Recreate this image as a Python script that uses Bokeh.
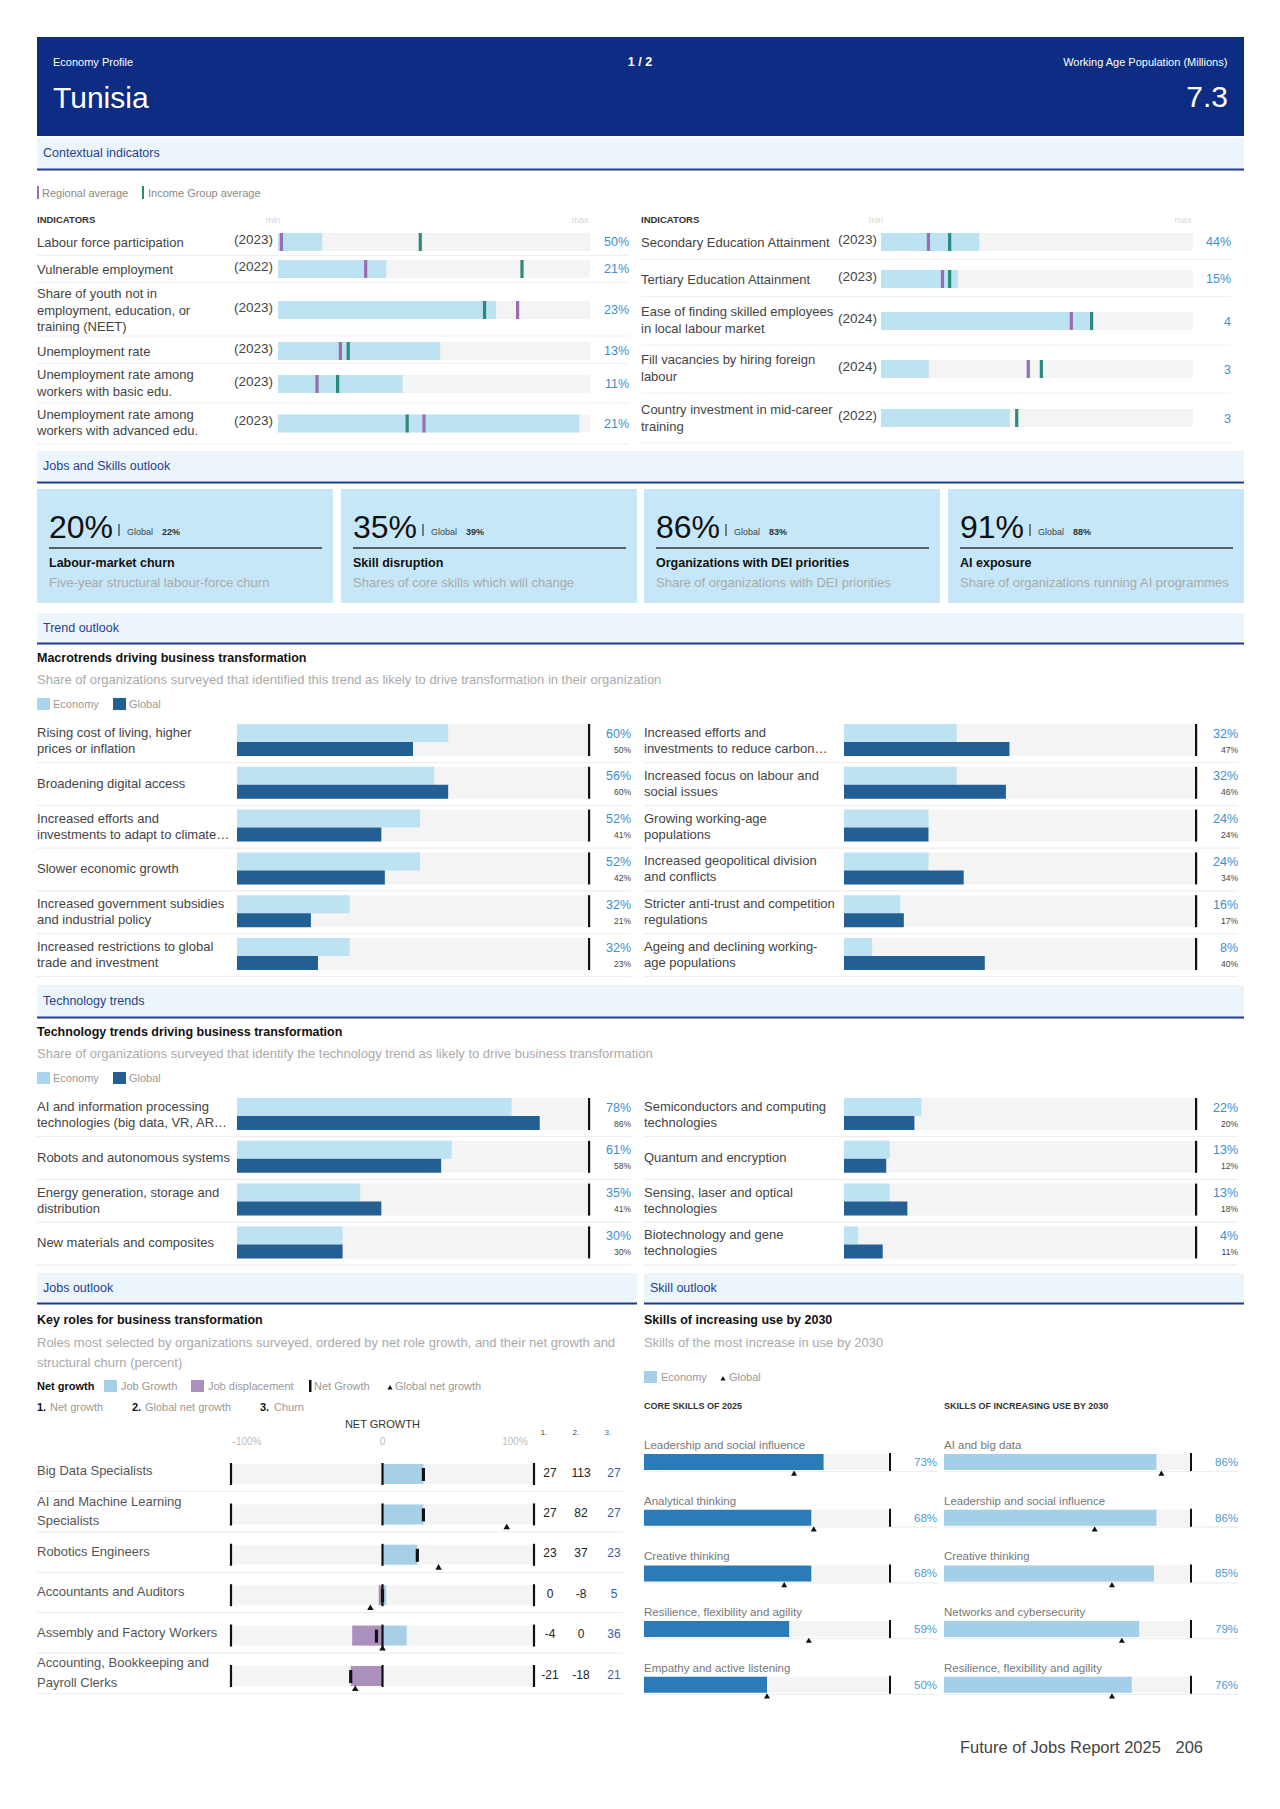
from bokeh.plotting import figure
from bokeh.models import Range1d, ColumnDataSource
from bokeh.embed import file_html
from bokeh.resources import INLINE
from bokeh.core.properties import value

# ============================ DATA ============================
country = "Tunisia"
working_age_population = "7.3"
page_label = "1 / 2"

# Contextual indicators (position of bar / markers between min and max)
ctx_left_labels = ["Labour force participation", "Vulnerable employment",
                   "Share of youth not in\nemployment, education, or\ntraining (NEET)",
                   "Unemployment rate", "Unemployment rate among\nworkers with basic edu.",
                   "Unemployment rate among\nworkers with advanced edu."]
ctx_left_years = ["(2023)", "(2022)", "(2023)", "(2023)", "(2023)", "(2023)"]
ctx_left_values = ["50%", "21%", "23%", "13%", "11%", "21%"]
ctx_left_pos = [0.142, 0.347, 0.699, 0.520, 0.399, 0.966]
ctx_left_regional = [0.011, 0.281, 0.768, 0.200, 0.125, 0.468]
ctx_left_income = [0.456, 0.782, 0.662, 0.225, 0.191, 0.414]

ctx_right_labels = ["Secondary Education Attainment", "Tertiary Education Attainment",
                    "Ease of finding skilled employees\nin local labour market",
                    "Fill vacancies by hiring foreign\nlabour",
                    "Country investment in mid-career\ntraining"]
ctx_right_years = ["(2023)", "(2023)", "(2024)", "(2024)", "(2022)"]
ctx_right_values = ["44%", "15%", "4", "3", "3"]
ctx_right_pos = [0.315, 0.247, 0.677, 0.153, 0.413]
ctx_right_regional = [0.152, 0.197, 0.610, 0.472, None]
ctx_right_income = [0.220, 0.220, 0.675, 0.514, 0.435]

# Jobs and skills outlook KPIs
kpi_values = ["20%", "35%", "86%", "91%"]
kpi_global = ["22%", "39%", "83%", "88%"]
kpi_titles = ["Labour-market churn", "Skill disruption", "Organizations with DEI priorities", "AI exposure"]
kpi_subtitles = ["Five-year structural labour-force churn", "Shares of core skills which will change",
                 "Share of organizations with DEI priorities", "Share of organizations running AI programmes"]

# Macrotrends
macro_left_labels = ["Rising cost of living, higher\nprices or inflation", "Broadening digital access",
                     "Increased efforts and\ninvestments to adapt to climate\u2026", "Slower economic growth",
                     "Increased government subsidies\nand industrial policy",
                     "Increased restrictions to global\ntrade and investment"]
macro_left_economy = [60, 56, 52, 52, 32, 32]
macro_left_global = [50, 60, 41, 42, 21, 23]
macro_right_labels = ["Increased efforts and\ninvestments to reduce carbon\u2026",
                      "Increased focus on labour and\nsocial issues", "Growing working-age\npopulations",
                      "Increased geopolitical division\nand conflicts",
                      "Stricter anti-trust and competition\nregulations",
                      "Ageing and declining working-\nage populations"]
macro_right_economy = [32, 32, 24, 24, 16, 8]
macro_right_global = [47, 46, 24, 34, 17, 40]

# Technology trends
tech_left_labels = ["AI and information processing\ntechnologies (big data, VR, AR\u2026",
                    "Robots and autonomous systems", "Energy generation, storage and\ndistribution",
                    "New materials and composites"]
tech_left_economy = [78, 61, 35, 30]
tech_left_global = [86, 58, 41, 30]
tech_right_labels = ["Semiconductors and computing\ntechnologies", "Quantum and encryption",
                     "Sensing, laser and optical\ntechnologies", "Biotechnology and gene\ntechnologies"]
tech_right_economy = [22, 13, 13, 4]
tech_right_global = [20, 12, 18, 11]

# Key roles
roles = ["Big Data Specialists", "AI and Machine Learning\nSpecialists", "Robotics Engineers",
         "Accountants and Auditors", "Assembly and Factory Workers",
         "Accounting, Bookkeeping and\nPayroll Clerks"]
role_job_growth = [27, 27, 23, 2.5, 16, 0]
role_job_displacement = [0, 0, 0, 2.5, 20, 21]
role_net_growth = [27, 27, 23, 0, -4, -21]
role_global_net_growth = [113, 82, 37, -8, 0, -18]
role_churn = [27, 27, 23, 5, 36, 21]

# Skills
core_skills = ["Leadership and social influence", "Analytical thinking", "Creative thinking",
               "Resilience, flexibility and agility", "Empathy and active listening"]
core_skills_economy = [73, 68, 68, 59, 50]
core_skills_global = [61, 69, 57, 67, 50]
rising_skills = ["AI and big data", "Leadership and social influence", "Creative thinking",
                 "Networks and cybersecurity", "Resilience, flexibility and agility"]
rising_skills_economy = [86, 86, 85, 79, 76]
rising_skills_global = [88, 61, 68, 72, 68]

footer_text = "Future of Jobs Report 2025"
page_number = "206"

# ============================ STYLE ============================
FONT = "Liberation Sans"
NAVY = "#0c2d83"
BAND = "#edf5fc"
BAND_LINE = "#1d3a8a"
BAND_TEXT = "#1f3f8f"
TRACK = "#f4f4f4"
ECON = "#bde2f2"
GLOB = "#245f94"
VALBLUE = "#3b8fd0"
LABEL = "#444444"
SUB = "#aaaaaa"
SEP = "#ececec"
PURPLE = "#9a6cb0"
TEAL = "#2b8a7a"
JOBGROW = "#a6d0e8"
JOBDISP = "#ab8fbd"

W, H = 1264, 1792
OX = 0.5
p = figure(width=W, height=H, x_range=Range1d(OX, OX + W), y_range=Range1d(OX + H, OX),
           output_backend="svg", toolbar_location=None, min_border=0, tools="")
p.axis.visible = False
p.grid.visible = False
p.outline_line_color = None
p.background_fill_color = "white"
p.border_fill_color = "white"

RECTS, SEGS, TEXTS = {}, {}, {}
TRIS = dict(x=[], y=[], size=[])


def rect(x0, x1, y0, y1, color, layer=1):
    d = RECTS.setdefault((layer, color), dict(left=[], right=[], top=[], bottom=[]))
    d["left"].append(min(x0, x1)); d["right"].append(max(x0, x1))
    d["top"].append(min(y0, y1)); d["bottom"].append(max(y0, y1))


def seg(x0, y0, x1, y1, color=SEP, width=1.0, layer=0):
    d = SEGS.setdefault((layer, color, width), dict(x0=[], y0=[], x1=[], y1=[]))
    d["x0"].append(x0); d["y0"].append(y0); d["x1"].append(x1); d["y1"].append(y1)


def text(x, y, s, size=13, color=LABEL, align="left", bold=False, baseline="middle"):
    d = TEXTS.setdefault((size, color, align, bold, baseline), dict(x=[], y=[], text=[]))
    d["x"].append(x); d["y"].append(y); d["text"].append(s)


def mtext(x, yc, s, size, color, spacing, **kw):
    lines = s.split("\n")
    n = len(lines)
    for i, ln in enumerate(lines):
        text(x, yc + (i - (n - 1) / 2) * spacing, ln, size, color, **kw)


def tri(x, y, size=7):
    TRIS["x"].append(x); TRIS["y"].append(y); TRIS["size"].append(size)


def band(x0, x1, y0, y1, label):
    rect(x0, x1, y0, y1, BAND, 0)
    seg(x0, y1 + 1.5, x1, y1 + 1.5, BAND_LINE, 2.2, 0)
    text(x0 + 6, (y0 + y1) / 2, label, 12.5, BAND_TEXT)


# ============================ HEADER ============================
rect(37, 1244, 37, 136, NAVY, 0)
text(53, 62, "Economy Profile", 11, "white")
text(640, 62, page_label, 12.5, "white", "center", bold=True)
text(1228, 62, "Working Age Population (Millions)", 11, "white", "right")
text(53, 97, country, 30, "white")
text(1228, 97, working_age_population, 30, "white", "right")

# ============================ CONTEXTUAL INDICATORS ============================
band(37, 1244, 138, 168, "Contextual indicators")
rect(37, 39, 186, 199, PURPLE, 2)
text(42, 193, "Regional average", 11, "#888888")
rect(142, 144, 186, 199, TEAL, 2)
text(148, 193, "Income Group average", 11, "#888888")


def indicator_panel(labels, years, vals, pos, reg, inc, centers, seps, xl, xy, bx0, bx1, xv, line_offsets):
    text(xl, 219, "INDICATORS", 9.5, "#333333", bold=True)
    text(bx0 - 5, 220, "min", 9, "#d5d5d5", "center")
    text(bx1 - 10, 220, "max", 9, "#d5d5d5", "center")
    for i, c in enumerate(centers):
        mtext(xl, c + line_offsets[i], labels[i], 13, LABEL, 16.5)
        text(xy, c - 3, years[i], 13.5, LABEL, "right")
        rect(bx0, bx1, c - 9, c + 9, TRACK, 0)
        rect(bx0, bx0 + pos[i] * (bx1 - bx0), c - 9, c + 9, ECON, 1)
        if reg[i] is not None:
            xm = bx0 + reg[i] * (bx1 - bx0)
            rect(xm - 1.6, xm + 1.6, c - 9, c + 9, PURPLE, 2)
        if inc[i] is not None:
            xm = bx0 + inc[i] * (bx1 - bx0)
            rect(xm - 1.6, xm + 1.6, c - 9, c + 9, TEAL, 2)
        text(xv, c, vals[i], 12.5, VALBLUE, "right")
    for s in seps:
        seg(xl, s, xv, s, "#f0f0f0", 1.2, 0)


indicator_panel(ctx_left_labels, ctx_left_years, ctx_left_values, ctx_left_pos, ctx_left_regional,
                ctx_left_income, [242, 269, 310, 351, 384, 423.5], [255.5, 282.5, 336, 363.5, 403, 444],
                37, 273, 278, 590, 629, [0, 0, 0, 0, -1, -1])
indicator_panel(ctx_right_labels, ctx_right_years, ctx_right_values, ctx_right_pos, ctx_right_regional,
                ctx_right_income, [242, 279, 321, 369, 418], [259.5, 296.5, 345, 393, 443],
                641, 877, 881, 1193, 1231, [0, 0, -1, -1, 0])

# ============================ JOBS AND SKILLS OUTLOOK ============================
band(37, 1244, 451, 481, "Jobs and Skills outlook")
kpi_x = [37, 341, 644, 948]
for i in range(4):
    x0 = kpi_x[i]
    rect(x0, x0 + 296, 489, 603, "#c6e7f8", 0)
    tx = x0 + 12
    text(tx, 527, kpi_values[i], 32, "#111111")
    seg(tx + 70, 524, tx + 70, 536, "#333333", 1.2, 2)
    text(tx + 78, 532, "Global", 9, "#444444")
    text(tx + 113, 532, kpi_global[i], 9, "#333333", bold=True)
    seg(tx, 548, x0 + 285, 548, "#333333", 1.5, 2)
    text(tx, 563, kpi_titles[i], 12.5, "#111111", bold=True)
    text(tx, 582, kpi_subtitles[i], 13, SUB)

# ============================ TREND OUTLOOK ============================
band(37, 1244, 613, 642, "Trend outlook")


def dual_bar_section(title, subtitle, y_title, left, right, row_top0):
    text(37, y_title, title, 12.5, "#111111", bold=True)
    text(37, y_title + 21, subtitle, 13, SUB)
    ly = y_title + 46
    rect(37, 50, ly - 6, ly + 6, "#a9d6ee", 1)
    text(53, ly, "Economy", 11, "#999999")
    rect(113, 126, ly - 6, ly + 6, GLOB, 1)
    text(129, ly, "Global", 11, "#999999")
    for (labels, econ, glob, xl, tx0, tx1, xv) in (left, right):
        for i in range(len(labels)):
            top = row_top0 + i * 42.8
            rect(tx0, tx1, top, top + 32, TRACK, 0)
            rect(tx0, tx0 + econ[i] / 100 * (tx1 - tx0), top, top + 18, ECON, 1)
            rect(tx0, tx0 + glob[i] / 100 * (tx1 - tx0), top + 18, top + 32, GLOB, 1)
            rect(tx1 - 1, tx1 + 1.2, top, top + 32, "#111111", 2)
            mtext(xl, top + 16.5, labels[i], 13, LABEL, 16)
            text(xv, top + 9.5, f"{econ[i]}%", 12.5, VALBLUE, "right")
            text(xv, top + 25.5, f"{glob[i]}%", 8.5, "#444444", "right")
            seg(xl, top + 38.5, xv, top + 38.5, "#eeeeee", 1.2, 0)


dual_bar_section("Macrotrends driving business transformation",
                 "Share of organizations surveyed that identified this trend as likely to drive transformation in their organization",
                 658,
                 (macro_left_labels, macro_left_economy, macro_left_global, 37, 237, 589, 631),
                 (macro_right_labels, macro_right_economy, macro_right_global, 644, 844, 1196, 1238),
                 724)

band(37, 1244, 985, 1016, "Technology trends")
dual_bar_section("Technology trends driving business transformation",
                 "Share of organizations surveyed that identify the technology trend as likely to drive business transformation",
                 1032,
                 (tech_left_labels, tech_left_economy, tech_left_global, 37, 237, 589, 631),
                 (tech_right_labels, tech_right_economy, tech_right_global, 644, 844, 1196, 1238),
                 1098)

# ============================ JOBS OUTLOOK ============================
band(37, 637, 1273, 1302, "Jobs outlook")
text(37, 1320, "Key roles for business transformation", 12.5, "#111111", bold=True)
text(37, 1342, "Roles most selected by organizations surveyed, ordered by net role growth, and their net growth and", 13, SUB)
text(37, 1362, "structural churn (percent)", 13, SUB)
ly = 1386
text(37, ly, "Net growth", 11, "#111111", bold=True)
rect(104, 117, ly - 6, ly + 6, JOBGROW, 1)
text(121, ly, "Job Growth", 11, "#999999")
rect(191, 204, ly - 6, ly + 6, JOBDISP, 1)
text(208, ly, "Job displacement", 11, "#999999")
rect(309, 311.5, ly - 6, ly + 6, "#111111", 2)
text(314, ly, "Net Growth", 11, "#999999")
tri(390, ly + 2, 5)
text(395, ly, "Global net growth", 11, "#999999")
text(37, 1407, "1.", 11, "#111111", bold=True)
text(50, 1407, "Net growth", 11, "#999999")
text(132, 1407, "2.", 11, "#111111", bold=True)
text(145, 1407, "Global net growth", 11, "#999999")
text(260, 1407, "3.", 11, "#111111", bold=True)
text(274, 1407, "Churn", 11, "#999999")

JX0, JZ, JX1 = 231, 382.5, 534
text(JZ, 1424, "NET GROWTH", 11, "#333333", "center")
text(JX0 + 16, 1441, "-100%", 10, "#bbbbbb", "center")
text(JZ, 1441, "0", 10, "#bbbbbb", "center")
text(JX1 - 19, 1441, "100%", 10, "#bbbbbb", "center")
text(544, 1432, "1.", 7.5, "#333333", "center")
text(576, 1432, "2.", 7.5, "#333333", "center")
text(608, 1432, "3.", 7.5, "#3a5ea8", "center")
half = JX1 - JZ
for i, r in enumerate(roles):
    c = 1474 + i * 40.4
    mtext(37, c - 3.5, r, 13, "#555555", 19.5)
    rect(JX0, JX1, c - 10, c + 10, TRACK, 0)
    rect(JZ, JZ + role_job_growth[i] / 100 * half, c - 10, c + 10, JOBGROW, 1)
    rect(JZ - role_job_displacement[i] / 100 * half, JZ, c - 10, c + 10, JOBDISP, 1)
    for xx in (JX0, JZ, JX1):
        rect(xx - 1.1, xx + 1.1, c - 11, c + 11, "#111111", 2)
    xn = JZ + role_net_growth[i] / 100 * half
    rect(xn - 1.6, xn + 1.6, c - 6, c + 7, "#111111", 3)
    g = role_global_net_growth[i]
    if abs(g) <= 100:
        tri(JZ + g / 100 * half, c + 13, 6.5)
    text(550, c - 2, str(role_net_growth[i]), 12, "#222222", "center")
    text(581, c - 2, str(role_global_net_growth[i]), 12, "#222222", "center")
    text(614, c - 2, str(role_churn[i]), 12, "#3a5ea8", "center")
    seg(37, c + 17.5, 623, c + 17.5, "#eeeeee", 1.2, 0)

# ============================ SKILL OUTLOOK ============================
band(644, 1244, 1273, 1302, "Skill outlook")
text(644, 1320, "Skills of increasing use by 2030", 12.5, "#111111", bold=True)
text(644, 1342, "Skills of the most increase in use by 2030", 13, SUB)
rect(644, 657, 1371, 1383, JOBGROW, 1)
text(661, 1377, "Economy", 11, "#999999")
tri(723, 1379, 5)
text(729, 1377, "Global", 11, "#999999")
text(644, 1406, "CORE SKILLS OF 2025", 9, "#333333", bold=True)
text(944, 1406, "SKILLS OF INCREASING USE BY 2030", 9, "#333333", bold=True)


def skill_column(labels, econ, glob, x0, x1, xv, color):
    for i in range(len(labels)):
        top = 1454 + i * 55.7
        text(x0, top - 9, labels[i], 11.5, "#777777")
        rect(x0, x1, top, top + 16, TRACK, 0)
        rect(x0, x0 + econ[i] / 100 * (x1 - x0), top, top + 16, color, 1)
        rect(x1 - 1, x1 + 1, top - 1, top + 17, "#111111", 2)
        text(xv, top + 8, f"{econ[i]}%", 11.5, "#4a9bd6", "right")
        seg(x0, top + 17.5, xv, top + 17.5, "#eeeeee", 1.2, 0)
        tri(x0 + glob[i] / 100 * (x1 - x0), top + 20, 6)


skill_column(core_skills, core_skills_economy, core_skills_global, 644, 890, 937, "#2a7bb7")
skill_column(rising_skills, rising_skills_economy, rising_skills_global, 944, 1191, 1238, "#a3cfe8")

# ============================ FOOTER ============================
text(960, 1747, footer_text, 16.5, "#444444")
text(1203, 1747, page_number, 16.5, "#444444", "right")

# ============================ RENDER ============================
layers = sorted(set([k[0] for k in RECTS] + [k[0] for k in SEGS]))
for L in layers:
    for (lay, color), d in RECTS.items():
        if lay == L:
            p.quad(source=ColumnDataSource(d), left="left", right="right", top="top", bottom="bottom",
                   fill_color=color, line_color=None)
    for (lay, color, w), d in SEGS.items():
        if lay == L:
            p.segment(source=ColumnDataSource(d), x0="x0", y0="y0", x1="x1", y1="y1",
                      line_color=color, line_width=w)
p.scatter(source=ColumnDataSource(TRIS), x="x", y="y", size="size", marker="triangle",
          fill_color="#111111", line_color=None)
for (size, color, align, bold, baseline), d in TEXTS.items():
    p.text(source=ColumnDataSource(d), x="x", y="y", text="text", text_font=value(FONT),
           text_font_size=value(f"{size}px"), text_color=color, text_align=align,
           text_baseline=baseline, text_font_style="bold" if bold else "normal")

open("out.html", "w").write(file_html(p, INLINE))
